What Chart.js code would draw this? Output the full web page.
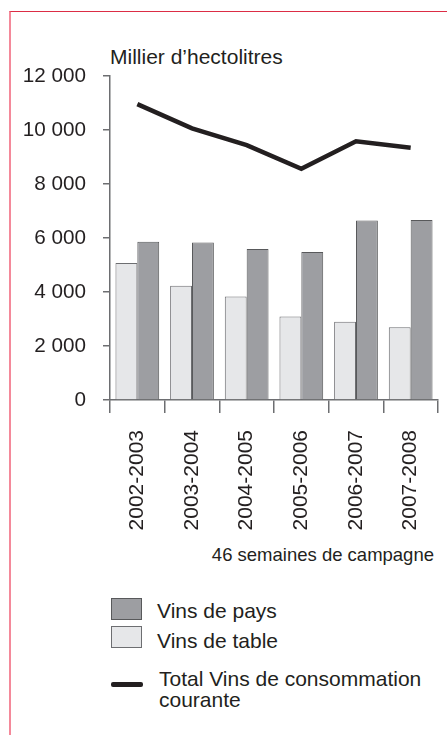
<!DOCTYPE html>
<html>
<head>
<meta charset="utf-8">
<script src="https://cdn.jsdelivr.net/npm/chart.js@4.4.1/dist/chart.umd.min.js"></script>
<style>
  html, body { margin: 0; padding: 0; background: #fff; }
  body { width: 447px; height: 735px; position: relative; overflow: hidden;
         font-family: "Liberation Sans", Arial, sans-serif; color: #231f20; }
  .frame { position: absolute; left: 9px; top: 11px; width: 460px; height: 760px;
           border-left: 2px solid #f4899a; border-top: 1.5px solid #dc2d45; box-sizing: border-box; }
  #wrap { position: absolute; left: 0; top: 0; width: 447px; height: 540px; }
  .t { position: absolute; white-space: nowrap; line-height: 1; }
  .box { position: absolute; box-sizing: border-box; border: 1px solid #58595b; }
  .ln { position: absolute; background: #231f20; border-radius: 2px; }
</style>
</head>
<body>
<div class="frame"></div>
<div class="t" style="left:110px; top:45.5px; font-size:21px;">Millier d’hectolitres</div>
<div id="wrap"><canvas id="c" width="447" height="540"></canvas></div>
<div class="t" style="right:13px; top:546px; font-size:18.5px;">46 semaines de campagne</div>

<div class="box" style="left:111px; top:598px; width:31px; height:22px; background:#9d9ea2;"></div>
<div class="t" style="left:157px; top:600px; font-size:21px;">Vins de pays</div>
<div class="box" style="left:111px; top:626px; width:31px; height:22px; background:#e6e7e9; border-color:#6d6e71;"></div>
<div class="t" style="left:157px; top:630px; font-size:21px;">Vins de table</div>
<div class="ln" style="left:111px; top:682px; width:32px; height:4.5px;"></div>
<div class="t" style="left:159px; top:669px; font-size:21px; line-height:20.6px;">Total Vins de consommation<br>courante</div>

<script>
const categories = ['2002-2003', '2003-2004', '2004-2005', '2005-2006', '2006-2007', '2007-2008'];
const vinsDeTable = [5070, 4230, 3830, 3090, 2900, 2690];
const vinsDePays = [5860, 5830, 5590, 5480, 6650, 6670];
const totalCourante = [10960, 10060, 9440, 8560, 9580, 9340];
const yTicks = [0, 2000, 4000, 6000, 8000, 10000, 12000];

const axisColor = '#6d6e71';
const textColor = '#231f20';
const fontFamily = '"Liberation Sans", Arial, sans-serif';

new Chart(document.getElementById('c'), {
  type: 'bar',
  data: {
    labels: categories,
    datasets: [
      {
        type: 'line',
        label: 'Total Vins de consommation courante',
        data: totalCourante,
        borderColor: '#231f20',
        borderWidth: 4.5,
        pointRadius: 0,
        tension: 0,
        fill: false,
        borderCapStyle: 'butt',
        borderJoinStyle: 'miter'
      },
      {
        label: 'Vins de table',
        data: vinsDeTable,
        backgroundColor: '#e6e7e9',
        borderColor: '#6d6e71',
        borderWidth: 1,
        barPercentage: 1.0,
        categoryPercentage: 0.8
      },
      {
        label: 'Vins de pays',
        data: vinsDePays,
        backgroundColor: '#9d9ea2',
        borderColor: '#58595b',
        borderWidth: 1,
        barPercentage: 1.0,
        categoryPercentage: 0.8
      }
    ]
  },
  options: {
    responsive: false,
    animation: false,
    devicePixelRatio: 1,
    layout: { padding: { left: 0, right: 9, top: 76, bottom: 0 } },
    plugins: { legend: { display: false }, tooltip: { enabled: false }, title: { display: false } },
    scales: {
      x: {
        offset: true,
        afterFit: (s) => { s.height = 140; s.paddingLeft = 0; s.paddingRight = 0; },
        grid: { offset: true, drawOnChartArea: false, drawTicks: true, tickLength: 13, color: axisColor, lineWidth: 1.5 },
        border: { display: true, color: axisColor, width: 1.5 },
        ticks: {
          autoSkip: false, maxRotation: 90, minRotation: 90, padding: 17,
          color: textColor, font: { family: fontFamily, size: 21 }
        }
      },
      y: {
        min: 0, max: 12000,
        afterFit: (s) => { s.width = 110; s.paddingTop = 0; s.paddingBottom = 0; },
        afterBuildTicks: (s) => { s.ticks = yTicks.map(v => ({ value: v })); },
        grid: { drawOnChartArea: false, drawTicks: true, tickLength: 7, color: axisColor, lineWidth: 1.5 },
        border: { display: true, color: axisColor, width: 1.5 },
        ticks: {
          padding: 17, color: textColor, font: { family: fontFamily, size: 20.7 },
          callback: (v) => String(v).replace(/\B(?=(\d{3})+(?!\d))/g, ' ')
        }
      }
    }
  }
});
</script>
</body>
</html>
